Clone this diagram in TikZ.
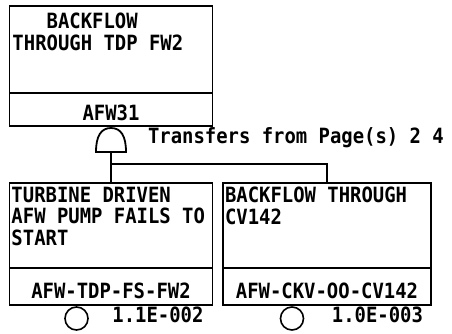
\documentclass[tikz,border=0pt]{standalone}
\usepackage{fontspec}
\newfontfamily\plotfont{DejaVu Sans Mono}[FakeStretch=0.9]
\usetikzlibrary{positioning,calc}
\begin{document}
\begin{tikzpicture}[x=1pt,y=-1pt,line width=1.8pt,
  every node/.style={font=\plotfont\bfseries\fontsize{21}{21.6}\selectfont,inner sep=0pt,outer sep=0pt},
  evbox/.style={draw,minimum width=203pt,minimum height=85pt},
  idbox/.style={draw,minimum width=203pt,minimum height=37pt},
  evtext/.style={anchor=north west,align=left},
  prob/.style={anchor=north east},
  basic/.style={draw,circle,line width=1.6pt,minimum size=23pt}]
\useasboundingbox (0,0) rectangle (452,334);
\node[evbox,minimum height=87pt] (top) at (111,49.5) {};
\node[idbox,minimum height=33pt,below=0pt of top] (topid) {};
\node[evtext] (toptext) at ($(top.north west)+(3,7)$) {\phantom{THR}BACKFLOW\\THROUGH TDP FW2};
\node[anchor=base] (topname) at ($(topid.south)+(0,-5)$) {AFW31};
\coordinate (gate) at ($(topid.south)+(0,26)$);
\draw ($(gate)+(-15,0)$) .. controls +(0,-16) and +(-10,0) .. ($(gate)+(0,-24)$) .. controls +(10,0) and +(0,-16) .. ($(gate)+(15,0)$) -- cycle;
\node[anchor=west] (xfer) at (148,138) {Transfers from Page(s) 2 4};
\node[evbox] (lev) at (111,225.5) {};
\node[idbox,below=0pt of lev] (levid) {};
\node[evtext] (levtext) at ($(lev.north west)+(2,4)$) {TURBINE DRIVEN\\AFW PUMP FAILS TO\\START};
\node[anchor=base] (levname) at ($(levid.south)+(0,-7)$) {AFW-TDP-FS-FW2};
\node[basic,anchor=north] (levbe) at ($(levid.south west)+(67,2)$) {};
\node[prob] (levp) at ($(levid.south east)+(-9,2)$) {1.1E-002};
\node[evbox,minimum width=208pt] (rev) at (327,225.5) {};
\node[idbox,minimum width=208pt,below=0pt of rev] (revid) {};
\node[evtext] (revtext) at ($(rev.north west)+(2,4)$) {BACKFLOW THROUGH\\CV142};
\node[anchor=base] (revname) at ($(revid.south)+(0,-7)$) {AFW-CKV-OO-CV142};
\node[basic,anchor=north] (revbe) at ($(revid.south west)+(69,2)$) {};
\node[prob] (revp) at ($(revid.south east)+(-8,2)$) {1.0E-003};
\coordinate (split) at ($(gate)+(0,12)$);
\draw (gate) -- (lev.north);
\draw (split) -| (rev.north);
\end{tikzpicture}
\end{document}
